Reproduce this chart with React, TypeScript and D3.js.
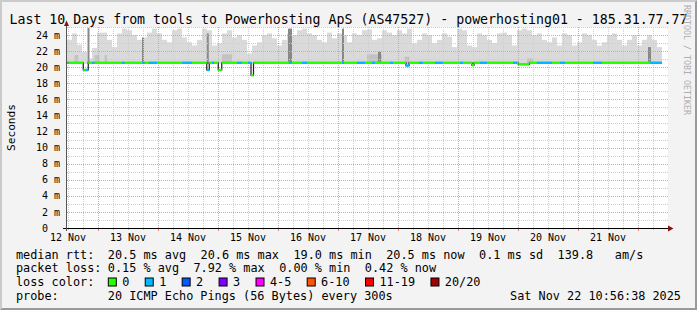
import React from "react";
import * as d3 from "d3";

// ---------------- data ----------------
const TITLE = "Last 10 Days from tools to Powerhosting ApS (AS47527) - powerhosting01 - 185.31.77.77";
const Y_LABEL = "Seconds";
const WATERMARK = "RRDTOOL / TOBI OETIKER";

const START = Date.UTC(2025, 10, 12, 11, 36);
const END = Date.UTC(2025, 10, 22, 11, 36);
const SMOKE_BIN_HOURS = 2;

// top of the smoke (max rtt, ms) per 2-hour bin
const smokeMax = [
  23.4, 24.2, 22.8, 21.9, 21.1, 22.4, 24.3, 24.3, 23.4, 22.5,
  24.2, 24.8, 24.6, 24.0, 23.4, 23.7, 24.3, 24.8, 24.2, 23.4,
  23.1, 24.6, 24.8, 23.7, 23.1, 22.7, 23.4, 24.8, 24.6, 22.7,
  23.0, 24.2, 24.6, 23.7, 24.0, 23.4, 21.7, 22.7, 23.1, 24.0,
  24.2, 23.6, 22.7, 23.4, 24.2, 24.0, 24.6, 24.8, 24.2, 24.0,
  23.4, 23.1, 24.3, 23.6, 24.2, 24.0, 23.1, 24.2, 24.0, 24.6,
  24.7, 23.4, 23.6, 24.6, 24.3, 24.0, 24.6, 24.2, 24.8, 23.0,
  23.4, 24.2, 24.0, 23.0, 23.4, 24.2, 23.8, 22.5, 24.8, 24.6,
  22.7, 22.5, 24.2, 24.0, 23.4, 23.0, 24.2, 24.3, 24.0, 22.7,
  24.6, 24.8, 24.6, 24.0, 24.2, 23.4, 23.1, 23.7, 22.7, 24.2,
  24.0, 22.7, 23.1, 24.2, 24.0, 23.4, 22.7, 23.1, 24.0, 24.2,
  23.4, 22.7, 23.4, 24.0, 22.7, 23.4, 24.0, 23.4, 22.5,
];
const smokeFloor = 20.42;
const medianBase = 20.55;

// denser smoke core: [startHour, endHour, topMs]
const smokeCore = [
  [3, 4.5, 21.5],
  [11, 13, 21.5],
  [15, 16, 21.5],
  [62, 66, 21.6],
  [120, 126, 21.6],
  [135, 137, 21.3],
  [184, 186.5, 21.1],
];
// dark narrow smoke spikes: [startHour, endHour, topMs]
const smokeSpikes = [
  [8.2, 9, 24.9],
  [30, 30.8, 23.7],
  [55.9, 56.7, 24.2],
  [88.4, 90, 24.8],
  [110, 110.8, 24.8],
  [124.4, 125.6, 21.9],
  [232.4, 233.6, 22.5],
];
// median drops: [startHour, endHour, medianMs]
const medianDips = [
  [6.5, 8.5, 19.65],
  [55.9, 56.9, 19.65],
  [60.5, 61.9, 19.65],
  [73.6, 74.6, 19.0],
  [135.6, 136.8, 20.2],
  [162, 162.8, 20.23],
  [180.5, 185, 20.35],
];
// lost pings: [startHour, endHour, lost]
const lossEvents = [
  [0, 0.6, 1], [7.5, 8.5, 1], [10, 11, 1], [22, 23, 1], [30, 31, 1],
  [33, 36, 1], [46, 50, 1], [55.9, 56.9, 1], [58, 58.8, 1], [68, 70, 1],
  [72.4, 73.6, 1], [88.8, 90, 1], [94, 96, 1], [110, 110.8, 1], [116, 119.2, 1],
  [122, 123.2, 1], [129.2, 130.4, 1], [135.6, 136.8, 1], [140.8, 142.4, 1],
  [147.2, 150.4, 1], [157.2, 158.4, 1], [165.2, 168, 1], [178.4, 180, 1],
  [188, 194, 1], [197.2, 199.2, 1], [210.4, 214, 1], [233.2, 238, 1],
];

const yTickValues = [0, 2, 4, 6, 8, 10, 12, 14, 16, 18, 20, 22, 24];
const yTickLabels = ["0  ", "2 m", "4 m", "6 m", "8 m", "10 m", "12 m", "14 m", "16 m", "18 m", "20 m", "22 m", "24 m"];
const dayLabels = ["12 Nov", "13 Nov", "14 Nov", "15 Nov", "16 Nov", "17 Nov", "18 Nov", "19 Nov", "20 Nov", "21 Nov"];

const lossBands = ["0", "1", "2", "3", "4-5", "6-10", "11-19", "20/20"];
const lossBandMax = [0, 1, 2, 3, 5, 10, 19, 20];
const lossColors = ["#26ff00", "#00b8ff", "#0059ff", "#7e00ff", "#ff00ff", "#ff5500", "#ff0000", "#a10000"];

const rttStats = ["20.5 ms avg", "20.6 ms max", "19.0 ms min", "20.5 ms now", "0.1 ms sd", "139.8 ", "am/s"];
const lossStats = ["0.15 % avg", "7.92 % max", "0.00 % min", "0.42 % now"];
const probeText = "20 ICMP Echo Pings (56 Bytes) every 300s";
const stampText = "Sat Nov 22 10:56:38 2025";

// ---------------- layout ----------------
const W = 697;
const H = 310;
const X0 = 67;
const X1 = 667;
const Y0 = 228;
const Y1 = 27;
const MONO = "'DejaVu Sans Mono', monospace";
const LEG_FS = 11.84;
const CH = LEG_FS * 0.60205;
const GLUE = 14.4;
const LEG_X = 16;
const VAL_X = 107.8;

const xScale = d3.scaleUtc().domain([new Date(START), new Date(END)]).range([X0, X1]);
const yScale = d3.scaleLinear().domain([0, 25]).range([Y0, Y1]);
const xh = (h: number) => xScale(new Date(START + h * 3600000));
const crisp = (v: number) => Math.round(v) + 0.5;

function flow(items: string[], x0: number) {
  const out: { t: string; x: number }[] = [];
  let x = x0;
  for (const t of items) {
    out.push({ t, x });
    x += t.length * CH + GLUE;
  }
  return out;
}

export default function App() {
  const dataEnd = smokeMax.length * SMOKE_BIN_HOURS;

  // median/loss segments
  const bounds = new Set<number>([0, dataEnd]);
  medianDips.forEach(([a, b]) => { bounds.add(a); bounds.add(b); });
  lossEvents.forEach(([a, b]) => { bounds.add(Math.min(a, dataEnd)); bounds.add(Math.min(b, dataEnd)); });
  const bs = Array.from(bounds).filter((v) => v >= 0 && v <= dataEnd).sort((a, b) => a - b);
  const segs: { a: number; b: number; med: number; ci: number }[] = [];
  for (let i = 0; i < bs.length - 1; i++) {
    const a = bs[i], b = bs[i + 1];
    const mid = (a + b) / 2;
    const dip = medianDips.find(([s, e]) => mid > s && mid < e);
    const le = lossEvents.find(([s, e]) => mid > s && mid < e);
    const loss = le ? le[2] : 0;
    const ci = lossBandMax.findIndex((m) => loss <= m);
    segs.push({ a, b, med: dip ? dip[2] : medianBase, ci });
  }
  const stepPts: [number, number][] = segs.map((s) => [xh(s.a), yScale(s.med)]);
  const last = segs[segs.length - 1];
  stepPts.push([xh(last.b), yScale(last.med)]);
  const stepPath = d3.line().curve(d3.curveStepAfter)(stepPts) || "";

  // grid
  const hours6 = d3.utcHour.every(6)!.range(new Date(START), new Date(END + 1));
  const majorX = hours6.filter((d) => d.getUTCHours() === 0);
  const minorX = hours6.filter((d) => d.getUTCHours() !== 0);
  const minorY = d3.range(1, 26, 2);
  const majorY = d3.range(2, 25, 2);

  // legend boxes flow
  const boxes: { x: number; lx: number; i: number }[] = [];
  let bx = VAL_X;
  lossBands.forEach((lab, i) => {
    boxes.push({ x: bx, lx: bx + 14.4, i });
    bx = bx + 14.4 + lab.length * CH + 15.4;
  });

  const rtt = flow(rttStats, VAL_X);
  const pl = flow(lossStats, VAL_X);

  return (
    <svg width={W} height={H} style={{ position: "absolute", left: 0, top: 0 }} fontFamily={MONO}>
      <rect x={0} y={0} width={W} height={H} fill="#f3f3f3" />
      <polygon points={`0,${H} 2,${H - 2} 2,2 ${W - 2},2 ${W},0 0,0`} fill="#cbcbcb" />
      <polygon points={`2,${H - 2} ${W - 2},${H - 2} ${W - 2},2 ${W},0 ${W},${H} 0,${H}`} fill="#999999" />

      {/* canvas */}
      <rect x={X0} y={Y1} width={X1 - X0 + 1} height={Y0 - Y1} fill="#ffffff" />

      {/* smoke */}
      {smokeMax.map((v, i) => (
        <rect key={"s" + i} x={xh(i * SMOKE_BIN_HOURS)} width={xh((i + 1) * SMOKE_BIN_HOURS) - xh(i * SMOKE_BIN_HOURS)}
          y={yScale(v)} height={yScale(smokeFloor) - yScale(v)} fill="#dadada" />
      ))}
      {smokeCore.map(([a, b, v], i) => (
        <rect key={"c" + i} x={xh(a)} width={xh(b) - xh(a)} y={yScale(v)} height={yScale(smokeFloor) - yScale(v)} fill="#c2c2c2" />
      ))}
      {smokeSpikes.map(([a, b, v], i) => (
        <rect key={"k" + i} x={xh(a)} width={xh(b) - xh(a)} y={yScale(v)} height={yScale(smokeFloor) - yScale(v)} fill="#888888" />
      ))}

      {/* grid */}
      <g strokeWidth={1} strokeDasharray="1,1">
        {minorY.map((v) => (
          <line key={"my" + v} x1={X0} x2={X1 + 2} y1={crisp(yScale(v))} y2={crisp(yScale(v))} stroke="#cdcdcd" />
        ))}
        {minorX.map((d, i) => (
          <line key={"mx" + i} x1={crisp(xScale(d))} x2={crisp(xScale(d))} y1={Y1} y2={Y0} stroke="#cdcdcd" />
        ))}
        {majorY.map((v) => (
          <line key={"My" + v} x1={X0} x2={X1 + 2} y1={crisp(yScale(v))} y2={crisp(yScale(v))} stroke="#f19a9a" />
        ))}
        {majorX.map((d, i) => (
          <line key={"Mx" + i} x1={crisp(xScale(d))} x2={crisp(xScale(d))} y1={Y1} y2={Y0} stroke="#f19a9a" />
        ))}
      </g>
      {majorX.map((d, i) => (
        <line key={"tx" + i} x1={crisp(xScale(d))} x2={crisp(xScale(d))} y1={Y0} y2={Y0 + 3} stroke="#f08080" />
      ))}
      {minorX.map((d, i) => (
        <line key={"tm" + i} x1={crisp(xScale(d))} x2={crisp(xScale(d))} y1={Y0} y2={Y0 + 2} stroke="#bbbbbb" />
      ))}

      {/* median */}
      <path d={stepPath} fill="none" stroke="#202020" strokeWidth={1.2} />
      {segs.map((s, i) => (
        <line key={"m" + i} x1={xh(s.a)} x2={xh(s.b)} y1={yScale(s.med)} y2={yScale(s.med)} stroke={lossColors[s.ci]} strokeWidth={2.5} />
      ))}

      {/* axes */}
      <line x1={63} x2={669} y1={Y0 + 0.5} y2={Y0 + 0.5} stroke="#000000" />
      <line x1={X0 - 0.5} x2={X0 - 0.5} y1={22} y2={Y0 + 3} stroke="#555555" />

      {/* title */}
      <text x={W / 2} y={24} fontSize={13.25} textAnchor="middle" fill="#000">{TITLE}</text>

      <polygon points={`${X0 - 3},26 ${X0 + 2},26 ${X0 - 0.5},20.5`} fill="#8b1010" />
      <polygon points={`668,225.5 668,231.5 673.5,228.5`} fill="#8b1010" />

      {/* y ticks */}
      {yTickValues.map((v, i) => (
        <text key={"yl" + v} x={60} y={yScale(v) + 3.6} fontSize={10} textAnchor="end" style={{ whiteSpace: "pre" }}>{yTickLabels[i]}</text>
      ))}
      {dayLabels.map((lab, i) => (
        <text key={"xl" + i} x={xScale(new Date(Date.UTC(2025, 10, 12 + i, 12)))} y={241} fontSize={10} textAnchor="middle">{lab}</text>
      ))}

      <text transform={`translate(15,127.5) rotate(-90)`} fontSize={11.2} textAnchor="middle">{Y_LABEL}</text>
      <text transform={`translate(684,5) rotate(90)`} fontSize={8.3} fill="#aeaeae">{WATERMARK}</text>

      {/* legend */}
      <g fontSize={LEG_FS} fill="#000" style={{ whiteSpace: "pre" }}>
        <text x={LEG_X} y={258.5}>median rtt:</text>
        {rtt.map((it, i) => <text key={"r" + i} x={it.x} y={258.5}>{it.t}</text>)}
        <text x={LEG_X} y={272.3}>packet loss:</text>
        {pl.map((it, i) => <text key={"p" + i} x={it.x} y={272.3}>{it.t}</text>)}
        <text x={LEG_X} y={286.2}>loss color:</text>
        {boxes.map((b) => (
          <g key={"b" + b.i}>
            <rect x={b.x + 0.5} y={278} width={8} height={8} fill={lossColors[b.i]} stroke="#000" strokeWidth={1} />
            <text x={b.lx} y={286.2}>{lossBands[b.i]}</text>
          </g>
        ))}
        <text x={LEG_X} y={300}>probe:</text>
        <text x={VAL_X} y={300}>{probeText}</text>
        <text x={681} y={300} textAnchor="end">{stampText}</text>
      </g>
    </svg>
  );
}
